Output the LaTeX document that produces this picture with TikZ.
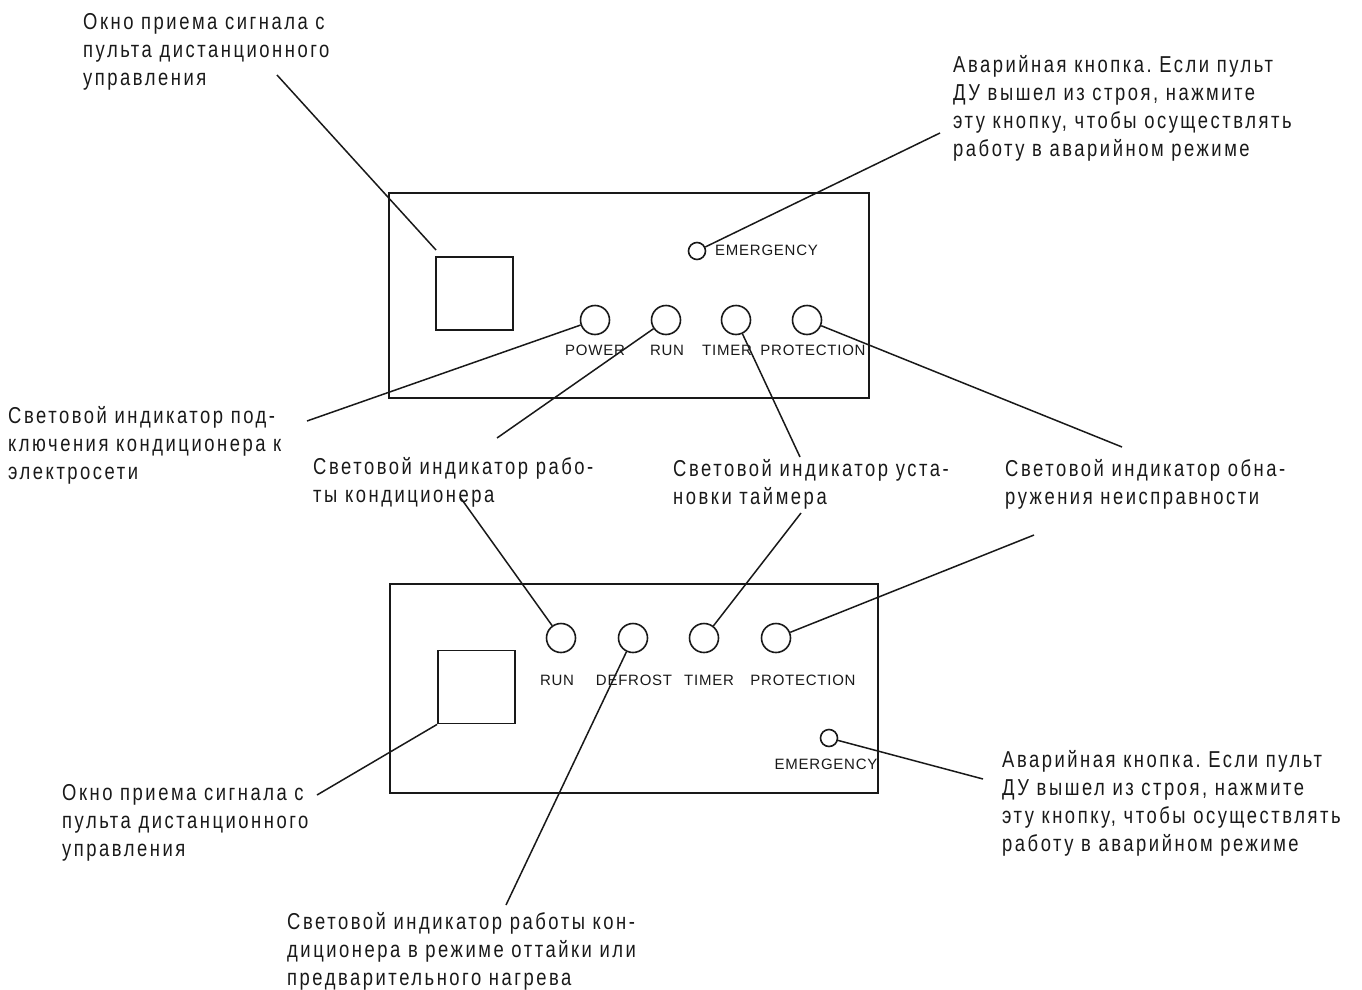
\documentclass[tikz,border=0pt]{standalone}
\usepackage{fontspec}
\setmainfont{Liberation Sans}
\newfontfamily\condfont[FakeStretch=0.8,LetterSpace=11]{Liberation Sans}
\newfontfamily\panelfont[LetterSpace=5]{Liberation Sans}
\frenchspacing
\begin{document}
\begin{tikzpicture}[x=1pt,y=-1pt,
  lead/.style={line width=1.5pt,draw=black!90},
  frame/.style={line width=2pt,draw=black!90},
  led/.style={circle,draw=black!90,line width=1.6pt,minimum size=29pt,inner sep=0pt},
  eled/.style={circle,draw=black!90,line width=1.6pt,minimum size=17pt,inner sep=0pt},
  win/.style={draw=black!90,line width=1.8pt,inner sep=0pt,minimum width=77pt,minimum height=73pt},
  plabel/.style={font=\panelfont\fontsize{15}{18}\selectfont,text=black!90,inner sep=0pt},
  note/.style={font=\condfont\fontsize{23}{28}\selectfont,text=black!90,align=left,anchor=north west,inner sep=0pt}
]
\useasboundingbox (0,0) rectangle (1362,990);

% ---------- top panel ----------
\draw[frame] (389,193) rectangle (869,398);
\node[win] (twin) at (474.5,293.5) {};
\node[led] (tpow) at (595,320) {};
\node[led] (trun) at (666,320) {};
\node[led] (ttim) at (736,320) {};
\node[led] (tpro) at (807,320) {};
\node[eled] (temg) at (697,251) {};
\node[plabel,anchor=west] (temgl) at (715,250) {EMERGENCY};
\node[plabel] (tpowl) at (595,350) {POWER};
\node[plabel] (trunl) at (667,350) {RUN};
\node[plabel] (ttiml) at (727,350) {TIMER};
\node[plabel] (tprol) at (813,350) {PROTECTION};

% ---------- bottom panel ----------
\draw[frame] (390,584) rectangle (878,793);
\node[win] (bwin) at (476.5,687) {};
\node[led] (brun) at (561,638) {};
\node[led] (bdef) at (633,638) {};
\node[led] (btim) at (704,638) {};
\node[led] (bpro) at (776,638) {};
\node[eled] (bemg) at (829,738) {};
\node[plabel] (brunl) at (557,680) {RUN};
\node[plabel] (bdefl) at (634,680) {DEFROST};
\node[plabel] (btiml) at (709,680) {TIMER};
\node[plabel] (bprol) at (803,680) {PROTECTION};
\node[plabel] (bemgl) at (826,764) {EMERGENCY};

% ---------- notes ----------
\node[note] (n1) at (83,13) {Окно приема сигнала с\\пульта дистанционного\\управления};
\node[note] (n2) at (953,55) {Аварийная кнопка. Если пульт\\ДУ вышел из строя, нажмите\\эту кнопку, чтобы осуществлять\\работу в аварийном режиме};
\node[note] (n3) at (8,406) {Световой индикатор под-\\ключения кондиционера к\\электросети};
\node[note] (n4) at (313,457) {Световой индикатор рабо-\\ты кондиционера};
\node[note] (n5) at (673,459) {Световой индикатор уста-\\новки таймера};
\node[note] (n6) at (1005,459) {Световой индикатор обна-\\ружения неисправности};
\node[note] (n7) at (62,784) {Окно приема сигнала с\\пульта дистанционного\\управления};
\node[note] (n8) at (1002,750) {Аварийная кнопка. Если пульт\\ДУ вышел из строя, нажмите\\эту кнопку, чтобы осуществлять\\работу в аварийном режиме};
\node[note] (n9) at (287,912) {Световой индикатор работы кон-\\диционера в режиме оттайки или\\предварительного нагрева};

% ---------- leader ends ----------
\coordinate (c1) at (277,75);
\coordinate (c1b) at (436,250);
\coordinate (c2) at (940,133);
\coordinate (c3) at (307,421);
\coordinate (c4) at (497,438);
\coordinate (c5) at (800,457);
\coordinate (c6) at (1122,447);
\coordinate (c7) at (460,497);
\coordinate (c8) at (801,513);
\coordinate (c9) at (1034,535);
\coordinate (c10) at (317,795);
\coordinate (c11) at (506,905);
\coordinate (c12) at (983,779);

% ---------- leaders ----------
\draw[lead] (c1) -- (c1b);
\draw[lead] (c2) -- (temg);
\draw[lead] (c3) -- (tpow);
\draw[lead] (c4) -- (trun);
\draw[lead] (c5) -- (ttim);
\draw[lead] (c6) -- (tpro);
\draw[lead] (c7) -- (brun);
\draw[lead] (c8) -- (btim);
\draw[lead] (c9) -- (bpro);
\draw[lead] (c10) -- (bwin.south west);
\draw[lead] (c11) -- (bdef);
\draw[lead] (c12) -- (bemg);
\end{tikzpicture}
\end{document}
